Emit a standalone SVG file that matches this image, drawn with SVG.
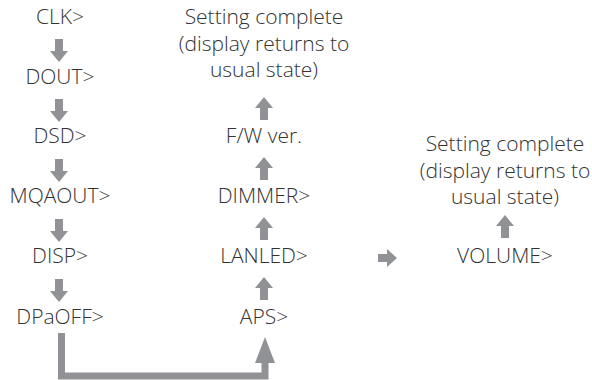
<svg xmlns="http://www.w3.org/2000/svg" width="592" height="380" viewBox="0 0 592 380">
<style>
text{font-family:"Open Sans","Liberation Sans",sans-serif;font-size:21px;font-weight:300;fill:#333;text-anchor:middle}
.arr{fill:#919295}
.line{fill:none;stroke:#919295;stroke-width:7}
</style>
<defs>
<path id="down" d="M-4,0 H4 V12 H9 L0,23 L-9,12 H-4 Z"/>
<path id="up" d="M-4,23 H4 V11 H9 L0,0 L-9,11 H-4 Z"/>
</defs>
<g id="clk"><text x="60" y="24">CLK&gt;</text></g>
<g id="dout"><text x="60" y="84">DOUT&gt;</text></g>
<g id="dsd"><text x="60" y="143">DSD&gt;</text></g>
<g id="mqaout"><text x="60" y="203">MQAOUT&gt;</text></g>
<g id="disp"><text x="60" y="263">DISP&gt;</text></g>
<g id="dpaoff"><text x="60" y="324">DPaOFF&gt;</text></g>
<g id="complete1"><text x="264" y="24">Setting complete</text><text x="264" y="50.5">(display returns to</text><text x="264" y="77">usual state)</text></g>
<g id="fw"><text x="264" y="143">F/W ver.</text></g>
<g id="dimmer"><text x="264" y="203">DIMMER&gt;</text></g>
<g id="lanled"><text x="264" y="263">LANLED&gt;</text></g>
<g id="aps"><text x="264" y="324">APS&gt;</text></g>
<g id="complete2"><text x="505" y="151">Setting complete</text><text x="505" y="177.5">(display returns to</text><text x="505" y="204">usual state)</text></g>
<g id="volume"><text x="505" y="263">VOLUME&gt;</text></g>
<g id="connectors" class="arr">
<use href="#down" x="59" y="39"/>
<use href="#down" x="59" y="99"/>
<use href="#down" x="59" y="159"/>
<use href="#down" x="59" y="219"/>
<use href="#down" x="59" y="279"/>
<use href="#up" x="264" y="97"/>
<use href="#up" x="264" y="157"/>
<use href="#up" x="264" y="217"/>
<use href="#up" x="264" y="277"/>
<use href="#up" x="505" y="215"/>
<path d="M378,254 H387 V249 L397,258 L387,267 V262 H378 Z"/>
<path class="line" d="M61.5,333 V376 H265 V360"/>
<path d="M255,363 H275 L265,337 Z"/>
</g>
</svg>
